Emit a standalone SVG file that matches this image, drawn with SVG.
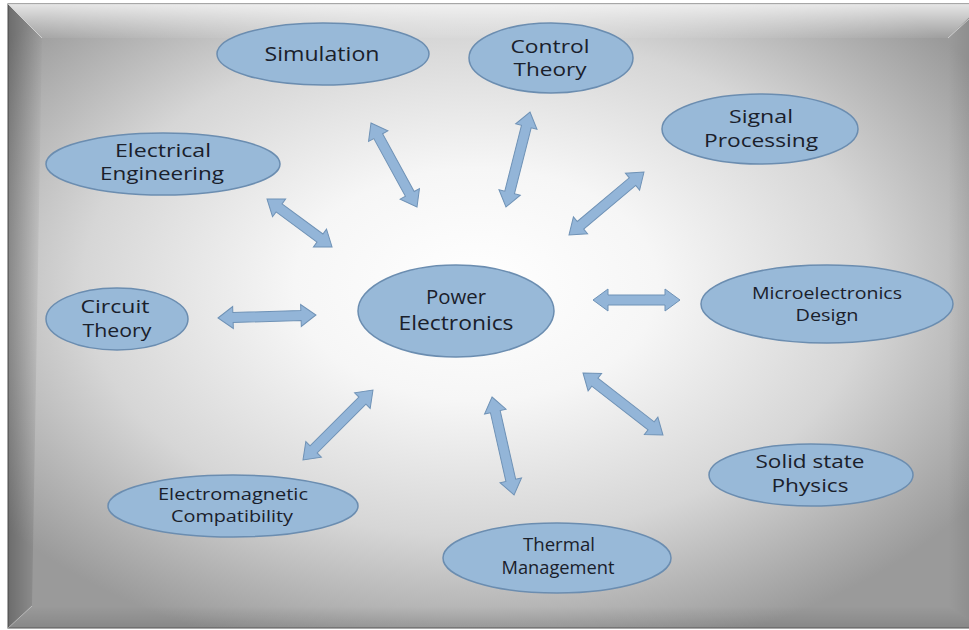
<svg xmlns="http://www.w3.org/2000/svg" width="969" height="630" viewBox="0 0 969 630">
  <defs>
    <radialGradient id="bg" cx="0.48" cy="0.45" r="0.62">
      <stop offset="0" stop-color="#ffffff"/>
      <stop offset="0.3" stop-color="#f6f6f6"/>
      <stop offset="0.65" stop-color="#d6d6d6"/>
      <stop offset="1" stop-color="#9a9a9a"/>
    </radialGradient>
    <linearGradient id="bevTop" x1="0" y1="0" x2="0" y2="1">
      <stop offset="0" stop-color="#ffffff" stop-opacity="0.75"/>
      <stop offset="1" stop-color="#ffffff" stop-opacity="0.05"/>
    </linearGradient>
    <linearGradient id="bevLeft" x1="0" y1="0" x2="1" y2="0">
      <stop offset="0" stop-color="#000000" stop-opacity="0.3"/>
      <stop offset="1" stop-color="#000000" stop-opacity="0.02"/>
    </linearGradient>
    <linearGradient id="bevRight" x1="1" y1="0" x2="0" y2="0">
      <stop offset="0" stop-color="#000000" stop-opacity="0.12"/>
      <stop offset="1" stop-color="#000000" stop-opacity="0"/>
    </linearGradient>
    <linearGradient id="bevBottom" x1="0" y1="1" x2="0" y2="0">
      <stop offset="0" stop-color="#000000" stop-opacity="0.12"/>
      <stop offset="1" stop-color="#000000" stop-opacity="0"/>
    </linearGradient>
    <style>
      .node ellipse { fill: #98b9d8; stroke: #6b8db0; stroke-width: 1.5; }
      .node text { font-family: "Open Sans", "Noto Sans", "DejaVu Sans", sans-serif; fill: #1a202b; text-anchor: middle; }
      .arrow { fill: #93b5d8; stroke: #6f92b6; stroke-width: 1; stroke-linejoin: miter; }
    </style>
  </defs>

  <!-- beveled backdrop -->
  <rect x="0" y="0" width="969" height="630" fill="#ffffff"/>
  <rect x="8" y="4" width="975" height="624" fill="url(#bg)" stroke="#6e6e6e" stroke-width="1.2"/>
  <polygon points="8,4 983,4 948,38 42,38" fill="url(#bevTop)"/>
  <polygon points="8,4 42,38 32,606 8,628" fill="url(#bevLeft)"/>
  <polygon points="983,4 983,628 948,606 948,38" fill="url(#bevRight)"/>
  <polygon points="8,628 32,606 948,606 983,628" fill="url(#bevBottom)"/>
  <line x1="8" y1="4" x2="42" y2="38" stroke="#ffffff" stroke-opacity="0.5"/>
  <line x1="8" y1="628" x2="32" y2="606" stroke="#ffffff" stroke-opacity="0.4"/>
  <line x1="969" y1="19" x2="948" y2="38" stroke="#ffffff" stroke-opacity="0.5"/>

  <!-- connectors: double-headed block arrows -->
  <g id="connectors">
    <polygon class="arrow" transform="translate(371,123) rotate(61.3)" points="0,0 15,-11 15,-5 80.8,-5 80.8,-11 95.8,0 80.8,11 80.8,5 15,5 15,11"/>
    <polygon class="arrow" transform="translate(530,112) rotate(104.2)" points="0,0 15,-11 15,-5 83,-5 83,-11 98,0 83,11 83,5 15,5 15,11"/>
    <polygon class="arrow" transform="translate(644,172) rotate(140)" points="0,0 15,-11 15,-5 82.9,-5 82.9,-11 97.9,0 82.9,11 82.9,5 15,5 15,11"/>
    <polygon class="arrow" transform="translate(267,199) rotate(36.4)" points="0,0 15,-11 15,-5 65.8,-5 65.8,-11 80.8,0 65.8,11 65.8,5 15,5 15,11"/>
    <polygon class="arrow" transform="translate(218,318) rotate(-1.75)" points="0,0 15,-11 15,-5 83,-5 83,-11 98,0 83,11 83,5 15,5 15,11"/>
    <polygon class="arrow" transform="translate(593,300)" points="0,0 15,-11 15,-5 72,-5 72,-11 87,0 72,11 72,5 15,5 15,11"/>
    <polygon class="arrow" transform="translate(583,373) rotate(37.8)" points="0,0 15,-11 15,-5 86.2,-5 86.2,-11 101.2,0 86.2,11 86.2,5 15,5 15,11"/>
    <polygon class="arrow" transform="translate(492,397) rotate(77.3)" points="0,0 15,-11 15,-5 85.4,-5 85.4,-11 100.4,0 85.4,11 85.4,5 15,5 15,11"/>
    <polygon class="arrow" transform="translate(373,390) rotate(135)" points="0,0 15,-11 15,-5 84,-5 84,-11 99,0 84,11 84,5 15,5 15,11"/>
  </g>

  <g id="power-electronics" class="node">
    <ellipse cx="456" cy="311" rx="98" ry="46"/>
    <text x="456" y="304" font-size="20" textLength="60" lengthAdjust="spacingAndGlyphs">Power</text>
    <text x="456" y="330" font-size="20" textLength="115" lengthAdjust="spacingAndGlyphs">Electronics</text>
  </g>

  <g id="simulation" class="node">
    <ellipse cx="323" cy="54" rx="106" ry="31"/>
    <text x="322" y="61" font-size="20" textLength="115" lengthAdjust="spacingAndGlyphs">Simulation</text>
  </g>

  <g id="control-theory" class="node">
    <ellipse cx="551" cy="58" rx="82" ry="35"/>
    <text x="550" y="53" font-size="18" textLength="79" lengthAdjust="spacingAndGlyphs">Control</text>
    <text x="550" y="76" font-size="18" textLength="73" lengthAdjust="spacingAndGlyphs">Theory</text>
  </g>

  <g id="signal-processing" class="node">
    <ellipse cx="760" cy="129" rx="98" ry="35"/>
    <text x="761" y="123" font-size="19" textLength="64" lengthAdjust="spacingAndGlyphs">Signal</text>
    <text x="761" y="147" font-size="19" textLength="114" lengthAdjust="spacingAndGlyphs">Processing</text>
  </g>

  <g id="electrical-engineering" class="node">
    <ellipse cx="163" cy="164" rx="117" ry="31"/>
    <text x="163" y="157" font-size="18" textLength="96" lengthAdjust="spacingAndGlyphs">Electrical</text>
    <text x="162" y="180" font-size="18" textLength="124" lengthAdjust="spacingAndGlyphs">Engineering</text>
  </g>

  <g id="circuit-theory" class="node">
    <ellipse cx="117" cy="319" rx="71" ry="31"/>
    <text x="115" y="313" font-size="19" textLength="69" lengthAdjust="spacingAndGlyphs">Circuit</text>
    <text x="117" y="337" font-size="19" textLength="69" lengthAdjust="spacingAndGlyphs">Theory</text>
  </g>

  <g id="microelectronics-design" class="node">
    <ellipse cx="827" cy="304" rx="126" ry="39"/>
    <text x="827" y="299" font-size="17" textLength="150" lengthAdjust="spacingAndGlyphs">Microelectronics</text>
    <text x="827" y="321" font-size="17" textLength="63" lengthAdjust="spacingAndGlyphs">Design</text>
  </g>

  <g id="solid-state-physics" class="node">
    <ellipse cx="811" cy="475" rx="102" ry="31"/>
    <text x="810" y="468" font-size="19" textLength="109" lengthAdjust="spacingAndGlyphs">Solid state</text>
    <text x="810" y="492" font-size="19" textLength="77" lengthAdjust="spacingAndGlyphs">Physics</text>
  </g>

  <g id="thermal-management" class="node">
    <ellipse cx="557" cy="558" rx="114" ry="35"/>
    <text x="559" y="551" font-size="18" textLength="72" lengthAdjust="spacingAndGlyphs">Thermal</text>
    <text x="558" y="574" font-size="18" textLength="113" lengthAdjust="spacingAndGlyphs">Management</text>
  </g>

  <g id="electromagnetic-compatibility" class="node">
    <ellipse cx="233" cy="506" rx="125" ry="31"/>
    <text x="233" y="500" font-size="16" textLength="150" lengthAdjust="spacingAndGlyphs">Electromagnetic</text>
    <text x="232" y="522" font-size="16" textLength="122" lengthAdjust="spacingAndGlyphs">Compatibility</text>
  </g>
</svg>
